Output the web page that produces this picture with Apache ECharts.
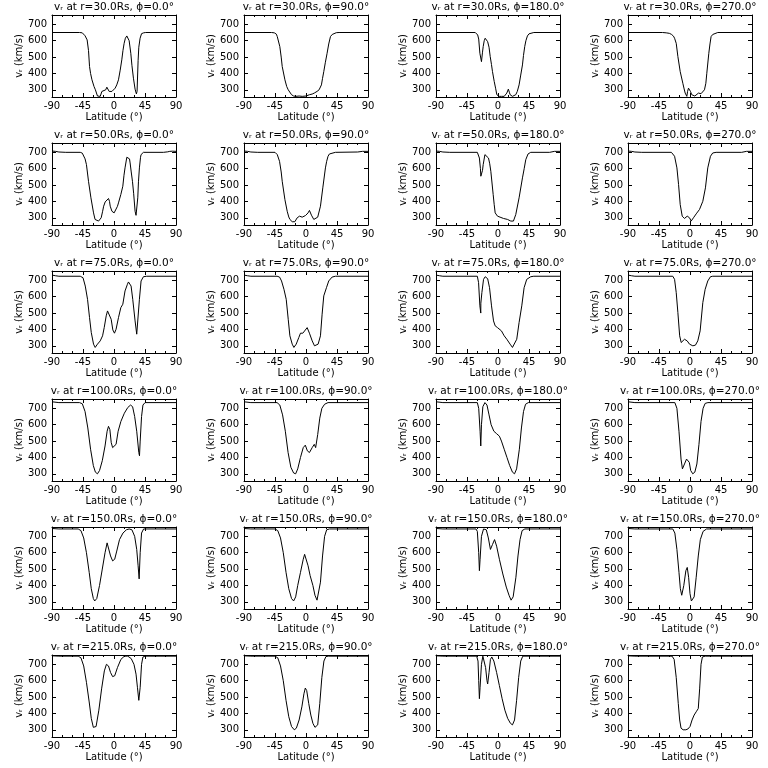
<!DOCTYPE html>
<html><head><meta charset="utf-8">
<script src="https://cdn.jsdelivr.net/npm/echarts@6/dist/echarts.min.js"></script>
<style>html,body{margin:0;padding:0;background:#fff}#c{width:768px;height:768px}</style>
</head><body><div id="c"></div>
<script>
const radii = ['30.0','50.0','75.0','100.0','150.0','215.0'];
const phis = ['0.0','90.0','180.0','270.0'];
const xTicks = [-90,-45,0,45,90];
const yTicks = [300,400,500,600,700];

const r30_phi0 = [[-90,650],[-50,650],[-46,648],[-42,630],[-39,605],[-37,540],[-35.5,442],[-34,400],[-32,361],[-29,320],[-27,300],[-24,262],[-20,260],[-17.6,290],[-15,280],[-12,300],[-10.4,316],[-7,290],[-5,300],[-3,290],[-1,284],[1.7,310],[4,330],[6.5,361],[9,420],[11.3,483],[13,540],[14.7,584],[16.5,615],[18.6,629],[20.5,625],[22,600],[24.4,523],[26,450],[28.2,371],[30.6,304],[32.5,275],[33.5,290],[35,480],[36,560],[37.9,615],[40,643],[43,648],[46,650],[90,650]];
const r30_phi90 = [[-90,650],[-50,650],[-46,648],[-43,640],[-41.7,625],[-38,564],[-36,500],[-34.5,442],[-30.6,361],[-28,320],[-25.8,300],[-21,270],[-18,262],[-15,260],[-10,262],[-5.5,260],[-3,265],[0,262],[1.7,268],[5,270],[9,274],[12,280],[16,290],[19,300],[22.4,330],[24,370],[25.8,411],[28,465],[30.6,523],[33,580],[35.5,625],[38,638],[40.3,645],[44,649],[48,650],[90,650]];
const r30_phi180 = [[-90,650],[-33,650],[-31,648],[-29.5,635],[-28,610],[-26.3,523],[-24,472],[-22.5,530],[-21.5,564],[-20,600],[-18.6,615],[-16.5,608],[-15,594],[-13,560],[-11.3,503],[-9.5,455],[-8,411],[-5.5,351],[-3.5,310],[-1.7,270],[0,262],[1.7,260],[5,260],[9,260],[11,265],[12.8,280],[15,304],[16.5,285],[17.6,270],[19,262],[21,260],[23,262],[25.8,270],[28,290],[30.6,330],[33,390],[35.5,452],[37,510],[38.8,564],[40.5,600],[42.7,629],[45,642],[47.5,647],[52,650],[90,650]];
const r30_phi270 = [[-90,650],[-40,650],[-34.5,648],[-30,645],[-27,639],[-24,628],[-22.4,615],[-20,584],[-17.6,503],[-14.2,411],[-10.4,340],[-8.5,305],[-7,280],[-4.6,260],[-3.5,290],[-2.2,310],[0.7,290],[2.5,270],[4,260],[7,262],[9,270],[12.3,280],[14,275],[16,276],[18,282],[21,300],[23,340],[24.4,401],[27.3,523],[29,580],[30.6,625],[33,638],[35.5,645],[40.3,650],[90,650]];

const r50_phi0 = [[-90,708],[-85,706],[-80,702],[-70,700],[-49,700],[-46,695],[-44,686],[-42,660],[-40,625],[-37,523],[-33.5,422],[-29.7,330],[-27.5,290],[-26.3,284],[-22.4,280],[-20,285],[-18.6,300],[-16.5,340],[-15,371],[-12.8,397],[-10.4,406],[-8,418],[-6.5,400],[-5.5,371],[-3,340],[-1,332],[0.2,330],[3,340],[5,370],[6.5,391],[9.9,442],[12.8,493],[14.5,560],[16,605],[18.6,670],[21,676],[22.5,660],[23.4,635],[25,580],[26.8,523],[28.5,450],[30.6,340],[32,315],[33,310],[34.5,422],[35.5,520],[36.9,605],[38.5,670],[39.3,686],[42.7,700],[71.7,700],[78,703],[81,706],[85,707],[90,706]];
const r50_phi90 = [[-90,708],[-85,706],[-80,702],[-70,700],[-45,700],[-43,695],[-41.7,686],[-38.4,645],[-36,580],[-34.5,523],[-30.6,411],[-27.3,340],[-25,305],[-23.4,290],[-20,276],[-16.2,276],[-12.8,300],[-9.4,310],[-5.5,304],[-3,308],[-0.7,314],[3,330],[5,345],[7.9,316],[11.3,290],[13.8,280],[17,304],[21,371],[24.4,483],[28.2,605],[30,645],[32,676],[34,690],[36.9,696],[42.7,700],[75,702],[82,706],[90,706]];
const r50_phi180 = [[-90,708],[-85,706],[-80,702],[-70,700],[-30,700],[-28.5,690],[-27,665],[-25.5,600],[-24.9,554],[-23.4,544],[-22.5,590],[-21.5,625],[-19,686],[-16.6,690],[-13.8,665],[-12,630],[-10.4,584],[-7,442],[-5.5,380],[-4.1,330],[-0.7,310],[3,304],[7.9,296],[13.8,290],[18.6,280],[22.4,280],[25.8,320],[30.6,422],[35.5,544],[38,600],[40.3,655],[43.6,690],[47.5,700],[75,700],[82,706],[90,706]];
const r50_phi270 = [[-90,708],[-85,706],[-80,702],[-70,700],[-27,700],[-24.5,690],[-22.4,676],[-19,605],[-16.6,503],[-14.2,381],[-11.3,310],[-8,296],[-6,300],[-4,310],[-2,305],[-0.7,300],[1.7,280],[3,285],[5,300],[9,324],[13.8,351],[18.6,401],[22.4,483],[25.8,605],[29.7,676],[33,696],[37.9,700],[75,700],[82,706],[90,706]];

const r75_phi0 = [[-90,732],[-85,728],[-80,725],[-49,725],[-45,716],[-41.7,665],[-38.4,584],[-35.5,472],[-33,381],[-29.7,310],[-27.3,290],[-24,310],[-20,330],[-16.6,361],[-14.2,411],[-11.3,483],[-9.4,513],[-8,520],[-6.5,513],[-4.1,462],[-1.7,397],[0.7,377],[3,401],[6.5,472],[9.9,533],[12.8,554],[16,635],[19.5,676],[21,690],[22.4,696],[24.8,665],[27.2,584],[30.6,452],[33,371],[34,360],[34.5,381],[36.9,584],[39.3,696],[42.7,722],[47.5,725],[90,725]];
const r75_phi90 = [[-90,732],[-85,728],[-80,725],[-42,725],[-38.4,720],[-35.5,696],[-32,645],[-28.7,584],[-25.8,462],[-23.4,361],[-20,310],[-17.6,290],[-14.2,310],[-10.4,351],[-8,377],[-4.6,377],[-1.7,371],[1.7,411],[5,377],[9,330],[12.3,300],[14.7,290],[17.6,310],[21,361],[23.4,493],[25.8,605],[29.7,655],[33,696],[37.9,720],[42.7,725],[90,725]];
const r75_phi180 = [[-90,732],[-85,728],[-80,725],[-30,725],[-28.2,686],[-26.3,544],[-25,500],[-24.9,560],[-23.4,625],[-21,706],[-18.6,722],[-15,710],[-12.3,655],[-9.4,544],[-6.5,452],[-4.1,422],[-0.7,411],[2.2,418],[5,391],[9,361],[12.8,340],[17.6,310],[21,290],[23.4,290],[27.2,340],[30.6,442],[34.5,544],[37.9,655],[41.7,706],[47.5,722],[52,725],[90,725]];
const r75_phi270 = [[-90,732],[-85,728],[-80,725],[-25,725],[-22.4,706],[-20,625],[-17.6,503],[-15,361],[-12.8,320],[-10.4,330],[-8,340],[-4.1,330],[-0.7,310],[4.1,300],[7.9,304],[11.3,330],[14.7,391],[18.6,564],[22,645],[25.8,696],[29.7,722],[33,725],[90,725]];

const r100_phi0 = [[-90,740],[-80,735],[-50,735],[-46,728],[-42,680],[-38,580],[-34,450],[-30,350],[-27,310],[-24,300],[-21,320],[-17,380],[-13,470],[-10,560],[-8,590],[-6,570],[-4,490],[-2,460],[0,450],[3,480],[6,560],[10,620],[15,670],[20,705],[24,720],[27,710],[30,650],[33,560],[36,430],[37,410],[38,500],[40,650],[42,720],[45,735],[90,735]];
const r100_phi90 = [[-90,740],[-80,735],[-42,735],[-38,720],[-34,660],[-30,560],[-26,430],[-22,340],[-18,305],[-15,300],[-12,330],[-8,400],[-4,460],[-1,475],[2,440],[5,430],[9,460],[12,480],[14,460],[17,540],[20,640],[23,700],[27,725],[32,735],[90,735]];
const r100_phi180 = [[-90,740],[-80,735],[-30,735],[-28,700],[-26,560],[-25,470],[-24,600],[-22,710],[-19,735],[-16,720],[-13,660],[-10,600],[-6,560],[-2,545],[2,530],[5,500],[9,450],[13,400],[17,350],[21,310],[24,300],[27,330],[31,450],[34,580],[37,680],[40,725],[44,735],[90,735]];
const r100_phi270 = [[-90,740],[-80,735],[-22,735],[-19,700],[-16,560],[-13,390],[-11,330],[-8,360],[-5,390],[-3,400],[-1,370],[1,320],[4,300],[7,310],[10,360],[13,480],[16,620],[19,700],[22,730],[26,735],[90,735]];

const r150_phi0 = [[-90,748],[-80,745],[-52,745],[-48,735],[-44,690],[-40,600],[-36,480],[-33,380],[-30,320],[-28,305],[-25,320],[-21,400],[-17,500],[-13,600],[-10,660],[-8,650],[-5,580],[-2,550],[1,560],[4,610],[8,680],[13,720],[18,740],[22,745],[26,740],[30,700],[33,620],[35,520],[36.5,440],[38,600],[40,720],[43,745],[90,745]];
const r150_phi90 = [[-90,748],[-80,745],[-45,745],[-41,735],[-37,690],[-33,600],[-29,480],[-25,380],[-21,320],[-18,305],[-15,330],[-12,400],[-8,480],[-4,560],[-2,590],[0,580],[3,520],[6,460],[10,400],[13,340],[16,310],[18,320],[21,420],[24,580],[27,700],[30,740],[34,745],[90,745]];
const r150_phi180 = [[-90,748],[-80,745],[-32,745],[-30,730],[-28,600],[-27,490],[-26,560],[-24,700],[-21,745],[-17,740],[-14,690],[-11,620],[-8,650],[-5,680],[-2,640],[2,560],[7,470],[12,390],[16,340],[19,310],[22,330],[26,450],[29,580],[32,680],[35,735],[39,745],[90,745]];
const r150_phi270 = [[-90,748],[-80,745],[-25,745],[-22,720],[-19,620],[-16,480],[-14,380],[-12,340],[-9,400],[-6,490],[-4,510],[-2,450],[0,350],[2,305],[4,300],[6,330],[9,450],[12,580],[15,680],[19,730],[24,745],[90,745]];

const r215_phi0 = [[-90,752],[-80,750],[-52,750],[-48,740],[-44,690],[-40,590],[-36,470],[-33,370],[-30,315],[-28,305],[-26,320],[-22,420],[-18,550],[-14,660],[-11,700],[-8,690],[-5,650],[-2,625],[1,630],[5,680],[10,730],[15,750],[20,750],[25,735],[29,700],[32,640],[34,560],[36,480],[37,470],[38,560],[40,700],[42,745],[45,750],[90,750]];
const r215_phi90 = [[-90,752],[-80,750],[-45,750],[-41,740],[-37,690],[-33,600],[-29,480],[-25,380],[-21,320],[-17,300],[-14,310],[-10,360],[-6,440],[-3,520],[-1,555],[1,540],[4,460],[7,390],[10,340],[13,315],[15,310],[17,330],[20,460],[23,620],[26,720],[29,748],[33,750],[90,750]];
const r215_phi180 = [[-90,752],[-80,750],[-31,750],[-29,720],[-28,600],[-27,490],[-26,560],[-24,700],[-22,750],[-20,745],[-18,680],[-16,600],[-15,580],[-13,650],[-11,730],[-9,745],[-6,720],[-2,650],[2,570],[6,490],[10,420],[14,370],[18,340],[21,330],[24,360],[27,480],[30,620],[33,720],[36,750],[90,750]];
const r215_phi270 = [[-90,752],[-80,750],[-26,750],[-23,730],[-20,620],[-17,460],[-15,360],[-13,310],[-10,300],[-6,300],[-3,305],[0,320],[3,360],[6,390],[9,410],[12,430],[14,550],[16,700],[18,745],[22,750],[90,750]];

const profiles = [
  [r30_phi0, r30_phi90, r30_phi180, r30_phi270],
  [r50_phi0, r50_phi90, r50_phi180, r50_phi270],
  [r75_phi0, r75_phi90, r75_phi180, r75_phi270],
  [r100_phi0, r100_phi90, r100_phi180, r100_phi270],
  [r150_phi0, r150_phi90, r150_phi180, r150_phi270],
  [r215_phi0, r215_phi90, r215_phi180, r215_phi270]
];

const FONT = 'DejaVu Sans';
const grid = [], xAxis = [], yAxis = [], series = [], graphic = [];
const lineSt = {color:'#000', width:1};
for (let r = 0; r < 6; r++) {
  for (let c = 0; c < 4; c++) {
    const gi = grid.length;
    const left = 52 + 192*c, top = 15 + 128*r;
    grid.push({left:left, top:top, width:124, height:82, show:false});
    xAxis.push({type:'value', gridIndex:gi, min:-90, max:90, interval:45, position:'bottom',
      axisLine:{show:true, onZero:false, lineStyle:lineSt},
      axisTick:{show:true, inside:true, length:4, lineStyle:lineSt},
      minorTick:{show:true, splitNumber:3, length:2, lineStyle:lineSt},
      axisLabel:{color:'#000', fontSize:10, fontFamily:FONT, margin:4, customValues:xTicks},
      splitLine:{show:false},
      name:'Latitude (°)', nameLocation:'middle', nameGap:15,
      nameTextStyle:{color:'#000', fontSize:10, fontFamily:FONT}});
    xAxis.push({type:'value', gridIndex:gi, min:-90, max:90, interval:45, position:'top',
      axisLine:{show:true, onZero:false, lineStyle:lineSt},
      axisTick:{show:true, inside:true, length:4, lineStyle:lineSt},
      minorTick:{show:true, splitNumber:3, length:2, lineStyle:lineSt},
      axisLabel:{show:false}, splitLine:{show:false}});
    yAxis.push({type:'value', gridIndex:gi, min:256, max:757, position:'left',
      axisLine:{show:true, onZero:false, lineStyle:lineSt},
      axisTick:{show:true, inside:true, length:4, customValues:yTicks, lineStyle:lineSt},
      axisLabel:{color:'#000', fontSize:10, fontFamily:FONT, margin:5, customValues:yTicks},
      splitLine:{show:false},
      name:'vᵣ (km/s)', nameLocation:'middle', nameGap:25,
      nameTextStyle:{color:'#000', fontSize:10, fontFamily:FONT}});
    yAxis.push({type:'value', gridIndex:gi, min:256, max:757, position:'right',
      axisLine:{show:true, onZero:false, lineStyle:lineSt},
      axisTick:{show:true, inside:true, length:4, customValues:yTicks, lineStyle:lineSt},
      axisLabel:{show:false}, splitLine:{show:false}});
    series.push({type:'line', xAxisIndex:2*gi, yAxisIndex:2*gi, data:profiles[r][c],
      showSymbol:false, symbol:'none', lineStyle:{color:'#000', width:1}, clip:true, animation:false});
    graphic.push({type:'text', x:left+62, y:top-13,
      style:{text:'vᵣ at r=' + radii[r] + 'Rs, ϕ=' + phis[c] + '°', textAlign:'center',
        textVerticalAlign:'top', font:'10.5px "' + FONT + '"', fill:'#000'}});
  }
}
const chart = echarts.init(document.getElementById('c'), null, {renderer:'canvas'});
chart.setOption({animation:false, backgroundColor:'#fff', grid, xAxis, yAxis, series, graphic});
</script></body></html>
